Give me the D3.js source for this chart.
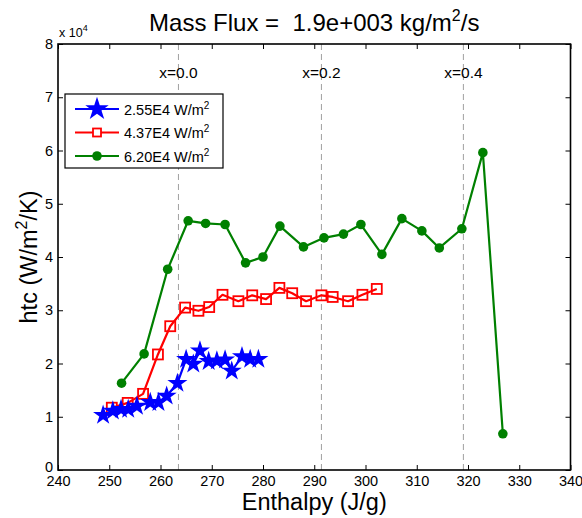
<!DOCTYPE html>
<html>
<head>
<meta charset="utf-8">
<script src="https://cdn.jsdelivr.net/npm/d3@7"></script>
<style>
  body { margin: 0; background: #fff; }
  svg { font-family: "Liberation Sans", Arial, sans-serif; }
</style>
</head>
<body>
<div id="chart"></div>
<script>
// ---- data (enthalpy J/g, htc in 1e4 W/m2/K) ----
const blueH = [248.8, 250.7, 252.3, 253.7, 255.4, 258.0, 259.6, 261.2, 263.3, 265.0,
               266.4, 267.7, 269.4, 271.0, 272.6, 273.9, 275.9, 277.5, 279.1];
const blueV = [1.03, 1.11, 1.14, 1.14, 1.20, 1.27, 1.27, 1.39, 1.63, 2.08,
               1.99, 2.24, 2.04, 2.05, 2.07, 1.86, 2.13, 2.08, 2.08];

const redH = [250.5, 253.6, 256.6, 259.5, 261.9, 264.8, 267.4, 269.5, 272.1, 275.2,
              277.9, 280.6, 283.2, 285.7, 288.4, 291.4, 293.6, 296.6, 299.4, 302.2];
const redV = [1.17, 1.26, 1.43, 2.17, 2.70, 3.05, 2.99, 3.06, 3.29, 3.17,
              3.28, 3.21, 3.42, 3.32, 3.17, 3.28, 3.25, 3.17, 3.29, 3.40];

const greenH = [252.4, 256.8, 261.4, 265.4, 268.8, 272.6, 276.6, 280.0, 283.3, 287.9,
                291.9, 295.7, 299.1, 303.2, 307.1, 311.0, 314.4, 318.8, 322.9, 326.8];
const greenV = [1.63, 2.18, 3.77, 4.68, 4.63, 4.61, 3.89, 4.00, 4.58, 4.19,
                4.36, 4.43, 4.61, 4.05, 4.72, 4.49, 4.17, 4.53, 5.96, 0.68];

const qualityH = [263.5, 291.4, 319.1];
const qualityLabels = ["x=0.0", "x=0.2", "x=0.4"];

const xTicks = [240, 250, 260, 270, 280, 290, 300, 310, 320, 330, 340];
const yTicks = [0, 1, 2, 3, 4, 5, 6, 7, 8];

const seriesNames = ["2.55E4 W/m", "4.37E4 W/m", "6.20E4 W/m"];

// ---- setup ----
const width = 582, height = 518;
const mLeft = 58, mRight = 570.5, mTop = 44, mBottom = 470;

const svg = d3.select("#chart").append("svg")
    .attr("width", width)
    .attr("height", height);

const x = d3.scaleLinear().domain([240, 340]).range([mLeft, mRight]);
const y = d3.scaleLinear().domain([0, 8]).range([mBottom, mTop]);

// dashed quality lines
svg.selectAll(".qline")
    .data(qualityH)
    .enter().append("line")
    .attr("x1", d => x(d)).attr("x2", d => x(d))
    .attr("y1", mTop).attr("y2", mBottom)
    .attr("stroke", "#a0a0a0")
    .attr("stroke-width", 1)
    .attr("stroke-dasharray", "6,4");

svg.selectAll(".qlabel")
    .data(qualityH)
    .enter().append("text")
    .attr("x", d => x(d))
    .attr("y", 78)
    .attr("text-anchor", "middle")
    .attr("font-size", 15.5)
    .text((d, i) => qualityLabels[i]);

// axes (inward ticks, box)
const axisStyle = g => {
    g.select(".domain").remove();
    g.selectAll("line").attr("stroke", "#000");
    g.selectAll("text").attr("font-size", 14.5).attr("fill", "#000")
        .attr("font-family", "Liberation Sans, Arial, sans-serif");
};

svg.append("g")
    .attr("transform", `translate(0,${mBottom})`)
    .call(d3.axisBottom(x).tickValues(xTicks).tickSize(-5).tickPadding(6))
    .call(axisStyle);

svg.append("g")
    .attr("transform", `translate(0,${mTop})`)
    .call(d3.axisTop(x).tickValues(xTicks).tickSize(-5).tickFormat(""))
    .call(axisStyle);

const yAxisG = svg.append("g")
    .attr("transform", `translate(${mLeft},0)`)
    .call(d3.axisLeft(y).tickValues(yTicks).tickSize(-5).tickPadding(5))
    .call(axisStyle);
// MATLAB puts the zero label just above the corner
yAxisG.selectAll(".tick text").filter(d => d === 0).attr("dy", "0.1em");

svg.append("g")
    .attr("transform", `translate(${mRight},0)`)
    .call(d3.axisRight(y).tickValues(yTicks).tickSize(-5).tickFormat(""))
    .call(axisStyle);

svg.append("rect")
    .attr("x", mLeft).attr("y", mTop)
    .attr("width", mRight - mLeft).attr("height", mBottom - mTop)
    .attr("fill", "none")
    .attr("stroke", "#000")
    .attr("stroke-width", 1.6);

// exponent label
const expo = svg.append("text")
    .attr("x", mLeft + 1).attr("y", 37)
    .attr("font-size", 12.5);
expo.append("tspan").text("x 10");
expo.append("tspan").attr("dy", -6).attr("font-size", 9).text("4");

// ---- series ----
const line = d3.line().x(d => x(d[0])).y(d => y(d[1]));
const star = d3.symbol().type(d3.symbolStar).size(125);

function zip(h, v) { return h.map((d, i) => [d, v[i]]); }

const blue = zip(blueH, blueV), red = zip(redH, redV), green = zip(greenH, greenV);

function drawLine(data, color) {
    svg.append("path")
        .datum(data)
        .attr("d", line)
        .attr("fill", "none")
        .attr("stroke", color)
        .attr("stroke-width", 2.2)
        .attr("stroke-linejoin", "round");
}

drawLine(green, "#008000");
svg.selectAll(".gdot")
    .data(green)
    .enter().append("circle")
    .attr("cx", d => x(d[0])).attr("cy", d => y(d[1]))
    .attr("r", 4.8)
    .attr("fill", "#008000");

drawLine(red, "#ff0000");
svg.selectAll(".rsq")
    .data(red)
    .enter().append("rect")
    .attr("x", d => x(d[0]) - 5).attr("y", d => y(d[1]) - 5)
    .attr("width", 10).attr("height", 10)
    .attr("fill", "none")
    .attr("stroke", "#ff0000")
    .attr("stroke-width", 1.8);

drawLine(blue, "#0000ff");
svg.selectAll(".bstar")
    .data(blue)
    .enter().append("path")
    .attr("transform", d => `translate(${x(d[0])},${y(d[1])})`)
    .attr("d", star)
    .attr("fill", "#0000ff");

// ---- legend ----
const legend = svg.append("g");
legend.append("rect")
    .attr("x", 65).attr("y", 94)
    .attr("width", 158).attr("height", 74)
    .attr("fill", "#fff")
    .attr("stroke", "#000")
    .attr("stroke-width", 1.2);

const colors = ["#0000ff", "#ff0000", "#008000"];
seriesNames.forEach((name, i) => {
    const ly = 109 + i * 23.5;
    legend.append("line")
        .attr("x1", 75).attr("x2", 119)
        .attr("y1", ly).attr("y2", ly)
        .attr("stroke", colors[i]).attr("stroke-width", 2.2);
    if (i === 0) {
        legend.append("path")
            .attr("transform", `translate(97,${ly})`)
            .attr("d", d3.symbol().type(d3.symbolStar).size(170)())
            .attr("fill", colors[i]);
    } else if (i === 1) {
        legend.append("rect")
            .attr("x", 93).attr("y", ly - 4).attr("width", 8).attr("height", 8)
            .attr("fill", "#fff").attr("stroke", colors[i]).attr("stroke-width", 1.8);
    } else {
        legend.append("circle")
            .attr("cx", 97).attr("cy", ly).attr("r", 4.8).attr("fill", colors[i]);
    }
    const t = legend.append("text")
        .attr("x", 124).attr("y", ly + 5.5)
        .attr("font-size", 14.5);
    t.append("tspan").text(name);
    t.append("tspan").attr("dy", -6).attr("font-size", 10).text("2");
});

// ---- titles ----
const title = svg.append("text")
    .attr("x", (mLeft + mRight) / 2).attr("y", 31)
    .attr("text-anchor", "middle")
    .attr("font-size", 24)
    .attr("xml:space", "preserve");
title.append("tspan").text("Mass Flux =  1.9e+003 kg/m");
title.append("tspan").attr("dy", -10).attr("font-size", 16).text("2");
title.append("tspan").attr("dy", 10).text("/s");

svg.append("text")
    .attr("x", (mLeft + mRight) / 2).attr("y", 510)
    .attr("text-anchor", "middle")
    .attr("font-size", 23.5)
    .text("Enthalpy (J/g)");

const ylab = svg.append("text")
    .attr("transform", `translate(37,${(mTop + mBottom) / 2}) rotate(-90)`)
    .attr("text-anchor", "middle")
    .attr("font-size", 23.5);
ylab.append("tspan").text("htc (W/m");
ylab.append("tspan").attr("dy", -10).attr("font-size", 16).text("2");
ylab.append("tspan").attr("dy", 10).text("/K)");
</script>
</body>
</html>
